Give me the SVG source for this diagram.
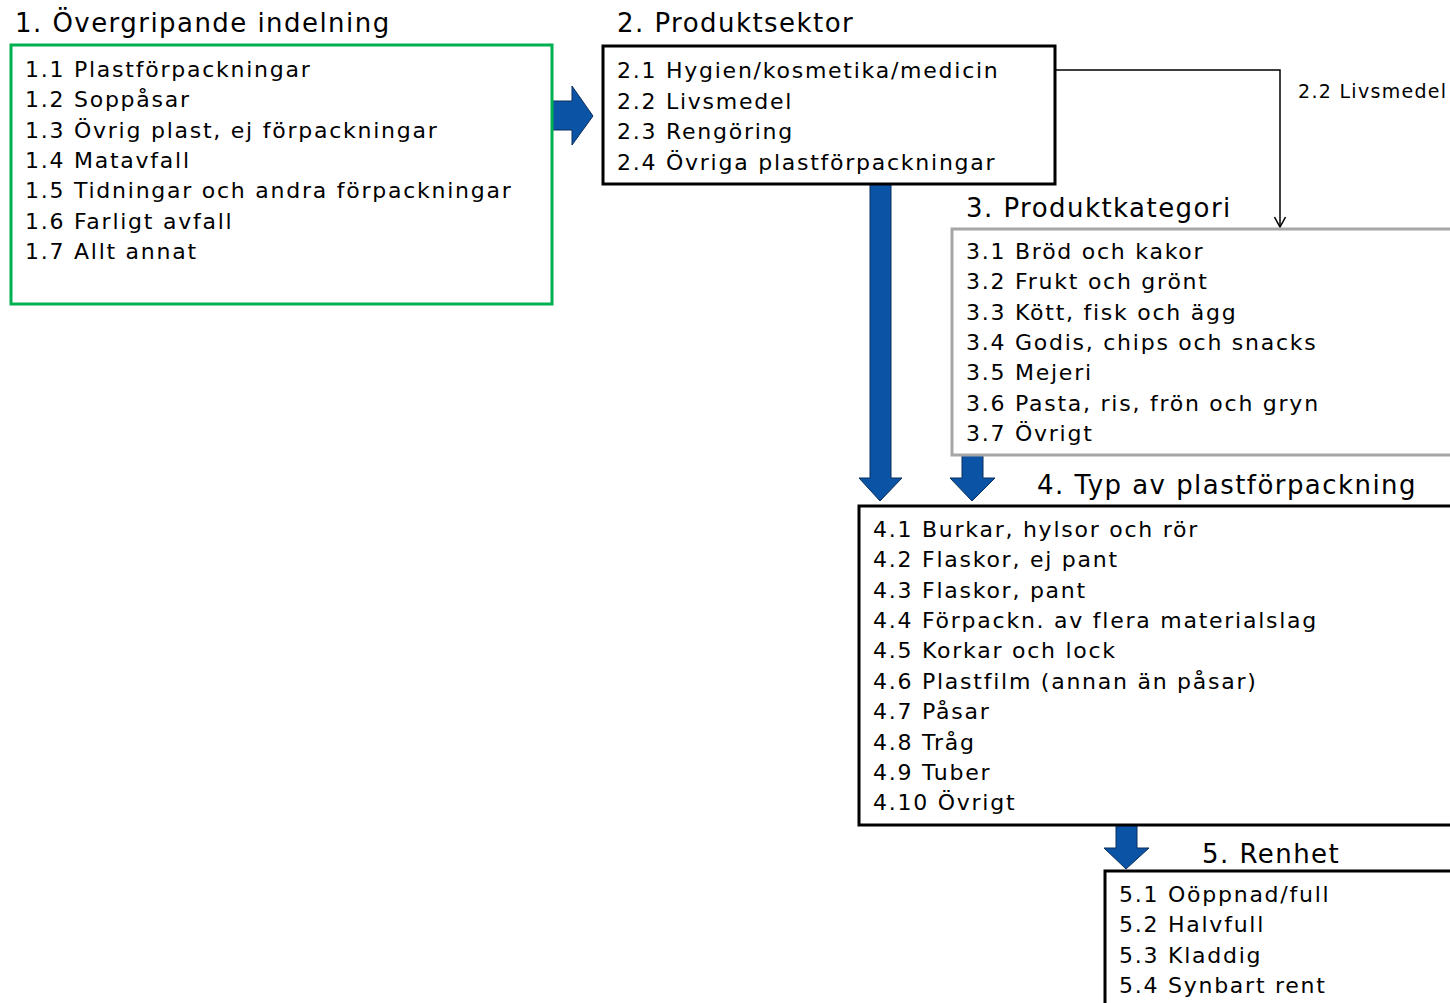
<svg xmlns="http://www.w3.org/2000/svg" width="1450" height="1003" viewBox="0 0 1450 1003">
<defs>
<style>
text{font-family:"DejaVu Sans",Verdana,sans-serif;fill:#000}
.t{font-size:26px;letter-spacing:1.45px}
.i{font-size:22px;letter-spacing:1.75px}
.l{font-size:19px;letter-spacing:1.3px}
.box{fill:#fff;stroke-width:3}
.blk{stroke:#000}
.grn{stroke:#00B050}
.gry{stroke:#A6A6A6}
.barrow{fill:#0B53A5;stroke:#0A2F5C;stroke-width:1}
</style>
<marker id="open" viewBox="0 0 12 12" refX="11" refY="6" markerWidth="12" markerHeight="12" markerUnits="userSpaceOnUse" orient="auto">
<path d="M1,0.5 L11,6 L1,11.5" fill="none" stroke="#000" stroke-width="1.5"/>
</marker>
</defs>
<rect width="1450" height="1003" fill="#fff"/>
<g id="connectors">
<path class="barrow" d="M552,101 H572 V86 L593,116 L572,145 V130 H552 Z"/>
<path class="barrow" d="M870,184 V478 H859 L880,501 L902,478 H891 V184 Z"/>
<path class="barrow" d="M962,455 V478 H950 L972,501 L995,478 H983 V455 Z"/>
<path class="barrow" d="M1116,825 V848 H1104 L1126,869 L1149,848 H1137 V825 Z"/>
<path d="M1055,70 H1280 V227" fill="none" stroke="#000" stroke-width="1.5" marker-end="url(#open)"/>
<text class="l" x="1298" y="98">2.2 Livsmedel</text>
</g>
<g id="node1">
<text class="t" x="15" y="32">1. Övergripande indelning</text>
<rect class="box grn" x="11" y="45" width="541" height="259"/>
<text class="i" x="25" y="77">1.1 Plastförpackningar</text>
<text class="i" x="25" y="107">1.2 Soppåsar</text>
<text class="i" x="25" y="138">1.3 Övrig plast, ej förpackningar</text>
<text class="i" x="25" y="168">1.4 Matavfall</text>
<text class="i" x="25" y="198">1.5 Tidningar och andra förpackningar</text>
<text class="i" x="25" y="229">1.6 Farligt avfall</text>
<text class="i" x="25" y="259">1.7 Allt annat</text>
</g>
<g id="node2">
<text class="t" x="617" y="32">2. Produktsektor</text>
<rect class="box blk" x="603" y="46" width="452" height="138"/>
<text class="i" x="617" y="78">2.1 Hygien/kosmetika/medicin</text>
<text class="i" x="617" y="109">2.2 Livsmedel</text>
<text class="i" x="617" y="139">2.3 Rengöring</text>
<text class="i" x="617" y="170">2.4 Övriga plastförpackningar</text>
</g>
<g id="node3">
<text class="t" x="966" y="217">3. Produktkategori</text>
<rect class="box gry" x="952" y="229" width="520" height="226"/>
<text class="i" x="966" y="259">3.1 Bröd och kakor</text>
<text class="i" x="966" y="289">3.2 Frukt och grönt</text>
<text class="i" x="966" y="320">3.3 Kött, fisk och ägg</text>
<text class="i" x="966" y="350">3.4 Godis, chips och snacks</text>
<text class="i" x="966" y="380">3.5 Mejeri</text>
<text class="i" x="966" y="411">3.6 Pasta, ris, frön och gryn</text>
<text class="i" x="966" y="441">3.7 Övrigt</text>
</g>
<g id="node4">
<text class="t" x="1037" y="494">4. Typ av plastförpackning</text>
<rect class="box blk" x="859" y="506" width="620" height="319"/>
<text class="i" x="873" y="537">4.1 Burkar, hylsor och rör</text>
<text class="i" x="873" y="567">4.2 Flaskor, ej pant</text>
<text class="i" x="873" y="598">4.3 Flaskor, pant</text>
<text class="i" x="873" y="628">4.4 Förpackn. av flera materialslag</text>
<text class="i" x="873" y="658">4.5 Korkar och lock</text>
<text class="i" x="873" y="689">4.6 Plastfilm (annan än påsar)</text>
<text class="i" x="873" y="719">4.7 Påsar</text>
<text class="i" x="873" y="750">4.8 Tråg</text>
<text class="i" x="873" y="780">4.9 Tuber</text>
<text class="i" x="873" y="810">4.10 Övrigt</text>
</g>
<g id="node5">
<text class="t" x="1202" y="863">5. Renhet</text>
<rect class="box blk" x="1105" y="871" width="370" height="160"/>
<text class="i" x="1119" y="902">5.1 Oöppnad/full</text>
<text class="i" x="1119" y="932">5.2 Halvfull</text>
<text class="i" x="1119" y="963">5.3 Kladdig</text>
<text class="i" x="1119" y="993">5.4 Synbart rent</text>
</g>
</svg>
